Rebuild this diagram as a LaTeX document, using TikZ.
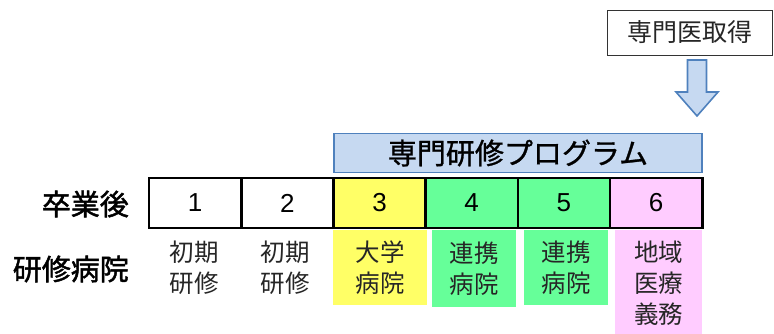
\documentclass[tikz,border=0pt]{standalone}
\usepackage{fontspec}
\setmainfont{Liberation Sans}
\newfontfamily\jp{Noto Sans CJK JP}
\newfontfamily\jpfb{Noto Sans CJK JP}[FakeBold=1.6]
\newfontfamily\jpmb{Noto Sans CJK JP}[FakeBold=1.0]
\definecolor{cyel}{HTML}{FFFF66}
\definecolor{cgrn}{HTML}{66FF99}
\definecolor{cpnk}{HTML}{FFCCFF}
\definecolor{cbfill}{HTML}{C6D9F1}
\definecolor{cbline}{HTML}{4F81BD}
\tikzset{
  yearcell/.style={draw=black, line width=2.6pt, minimum width=92.2pt, minimum height=50pt, inner sep=0pt, font=\fontsize{26}{26}\selectfont},
  hospbox/.style={inner sep=0pt, align=center, font=\jp\fontsize{24.5}{31}\selectfont, text=black!85},
  rowlabel/.style={anchor=east, inner sep=0pt, font=\jpfb\fontsize{29}{29}\selectfont},
}
\begin{document}
\begin{tikzpicture}[x=1pt,y=-1pt]
\useasboundingbox (0,0) rectangle (774,334);
% top box
\node[draw=black!80, line width=0.8pt, fill=white, minimum width=165pt, minimum height=45pt, inner sep=0pt, font=\jp\fontsize{25}{25}\selectfont, text=black!85] (get) at (689.5,32.5) {専門医取得};
% hollow arrow
\draw[draw=cbline, line width=1.6pt, fill=cbfill]
  (687.5,60) -- (706.5,60) -- (706.5,92) -- (718,92) -- (697,116) -- (676,92) -- (687.5,92) -- cycle;
% program bar
\node[draw=cbline, line width=1.6pt, fill=cbfill, minimum width=368pt, minimum height=39pt, inner sep=0pt, font=\jpmb\fontsize{29}{29}\selectfont] (prog) at (518,153) {専門研修プログラム};
% colored hospital boxes
\node[hospbox, fill=cyel, minimum width=94pt, minimum height=75pt] (h3) at (380,267.5) {大学\\病院};
\node[hospbox, fill=cgrn, minimum width=84pt, minimum height=77pt] (h4) at (474,268.5) {連携\\病院};
\node[hospbox, fill=cgrn, minimum width=84pt, minimum height=75pt] (h5) at (566,267.5) {連携\\病院};
\node[hospbox, fill=cpnk, minimum width=87pt, minimum height=106pt] (h6) at (658.5,283) {地域\\医療\\義務};
\node[hospbox] (h1) at (194,268) {初期\\研修};
\node[hospbox] (h2) at (285,268) {初期\\研修};
% year cells
\node[yearcell, fill=white] (y1) at (195.1,203) {1};
\node[yearcell, fill=white] (y2) at (287.3,203) {2};
\node[yearcell, fill=cyel] (y3) at (379.5,203) {3};
\node[yearcell, fill=cgrn] (y4) at (471.7,203) {4};
\node[yearcell, fill=cgrn] (y5) at (563.9,203) {5};
\node[yearcell, fill=cpnk] (y6) at (656.1,203) {6};
% row labels
\node[rowlabel] (l1) at (129,204) {卒業後};
\node[rowlabel] (l2) at (129,269) {研修病院};
\end{tikzpicture}
\end{document}
